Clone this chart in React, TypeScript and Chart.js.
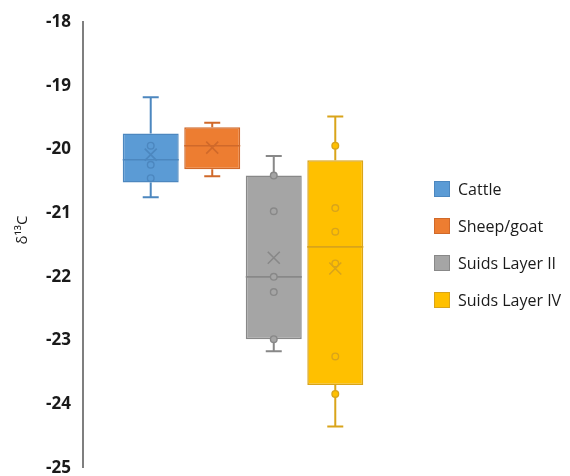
import React, { useEffect, useRef } from 'react';
import { Chart, registerables } from 'chart.js';

Chart.register(...registerables);

const categories = ['Cattle', 'Sheep/goat', 'Suids Layer II', 'Suids Layer IV'];
const q1 = [-20.52, -20.31, -22.98, -23.7];
const q3 = [-19.75, -19.65, -20.41, -20.17];
const medians = [-20.16, -19.94, -22.0, -21.53];
const whiskerLow = [-20.75, -20.42, -23.17, -24.35];
const whiskerHigh = [-19.18, -19.58, -20.1, -19.48];
const means = [-20.08, -19.97, -21.7, -21.87];
const cattlePoints = [-19.94, -20.24, -20.45];
const sheepPoints: number[] = [];
const suidsIIPoints = [-20.41, -20.97, -22.0, -22.24, -22.98];
const suidsIVPoints = [-19.94, -20.92, -21.29, -21.79, -23.25, -23.84];
const innerPoints = [cattlePoints, sheepPoints, suidsIIPoints, suidsIVPoints];
const yMin = -25;
const yMax = -18;
const yTitle = 'δ¹³C';

const fills = ['#5B9BD5', '#ED7D31', '#A5A5A5', '#FFC000'];
const strokes = ['#4C87BF', '#D0692A', '#888888', '#D9A41A'];

const boxPlugin = {
  id: 'boxExtras',
  afterDatasetsDraw(chart: any) {
    const ctx = chart.ctx;
    const y = chart.scales.y;
    categories.forEach((_, i) => {
      const meta = chart.getDatasetMeta(i);
      const bar = meta.data[0];
      if (!bar) return;
      const x = bar.x;
      const w = bar.width;
      const c = strokes[i];
      ctx.save();
      ctx.strokeStyle = c;
      ctx.lineWidth = 2;
      const pHi = y.getPixelForValue(whiskerHigh[i]);
      const pLo = y.getPixelForValue(whiskerLow[i]);
      const pQ3 = y.getPixelForValue(q3[i]);
      const pQ1 = y.getPixelForValue(q1[i]);
      ctx.beginPath();
      ctx.moveTo(x, pQ3);
      ctx.lineTo(x, pHi);
      ctx.moveTo(x - 8, pHi);
      ctx.lineTo(x + 8, pHi);
      ctx.moveTo(x, pQ1);
      ctx.lineTo(x, pLo);
      ctx.moveTo(x - 8, pLo);
      ctx.lineTo(x + 8, pLo);
      ctx.stroke();
      const pMed = y.getPixelForValue(medians[i]);
      ctx.lineWidth = 1.6;
      ctx.beginPath();
      ctx.moveTo(x - w / 2, pMed);
      ctx.lineTo(x + w / 2, pMed);
      ctx.stroke();
      ctx.lineWidth = 1.4;
      innerPoints[i].forEach((v) => {
        const py = y.getPixelForValue(v);
        ctx.beginPath();
        ctx.arc(x, py, 3.3, 0, Math.PI * 2);
        ctx.fillStyle = fills[i];
        ctx.fill();
        ctx.stroke();
      });
      const pMean = y.getPixelForValue(means[i]);
      const s = 6;
      ctx.lineWidth = 1.6;
      ctx.beginPath();
      ctx.moveTo(x - s, pMean - s);
      ctx.lineTo(x + s, pMean + s);
      ctx.moveTo(x + s, pMean - s);
      ctx.lineTo(x - s, pMean + s);
      ctx.stroke();
      ctx.restore();
    });
  },
  afterDraw(chart: any) {
    const ctx = chart.ctx;
    ctx.save();
    ctx.font = "16px 'Open Sans', sans-serif";
    ctx.textBaseline = 'middle';
    ctx.textAlign = 'left';
    categories.forEach((name, i) => {
      const cy = 189 + i * 37;
      ctx.fillStyle = fills[i];
      ctx.fillRect(434, cy - 8, 16, 16);
      ctx.strokeStyle = strokes[i];
      ctx.lineWidth = 1;
      ctx.strokeRect(434.5, cy - 7.5, 15, 15);
      ctx.fillStyle = '#1a1a1a';
      ctx.fillText(name, 458, cy + 1);
    });
    ctx.translate(23, 230);
    ctx.rotate(-Math.PI / 2);
    ctx.textAlign = 'center';
    ctx.font = "15px 'Open Sans', sans-serif";
    ctx.fillStyle = '#1a1a1a';
    ctx.fillText(yTitle, 0, 0);
    ctx.restore();
  },
};

export default function App() {
  const ref = useRef<HTMLCanvasElement>(null);
  useEffect(() => {
    const chart = new Chart(ref.current as HTMLCanvasElement, {
      type: 'bar',
      data: {
        labels: [''],
        datasets: categories.map((name, i) => ({
          label: name,
          data: [[q1[i], q3[i]]] as any,
          backgroundColor: fills[i],
          borderColor: strokes[i],
          borderWidth: 1.5,
          borderSkipped: false,
          categoryPercentage: 0.769,
          barPercentage: 0.91,
        })),
      },
      options: {
        animation: false,
        responsive: false,
        layout: { padding: { top: 19, bottom: 20, left: 0, right: 167 } },
        plugins: {
          legend: { display: false },
          tooltip: { enabled: false },
        },
        scales: {
          x: { display: false },
          y: {
            min: yMin,
            max: yMax,
            ticks: {
              stepSize: 1,
              padding: 12,
              color: '#1a1a1a',
              font: { family: "'Open Sans', sans-serif", size: 17, weight: 'bold' },
            },
            grid: { display: false, drawTicks: false },
            border: { display: true, color: '#7f7f7f', width: 2 },
            afterFit: (scale: any) => {
              scale.width = 83;
            },
          },
        },
      },
      plugins: [boxPlugin],
    });
    return () => chart.destroy();
  }, []);
  return (
    <div
      style={{
        position: 'fixed',
        left: 0,
        top: 0,
        width: 570,
        height: 476,
        overflow: 'hidden',
        background: '#fff',
      }}
    >
      <canvas ref={ref} width={570} height={490} style={{ display: 'block', width: 570, height: 490 }} />
    </div>
  );
}
